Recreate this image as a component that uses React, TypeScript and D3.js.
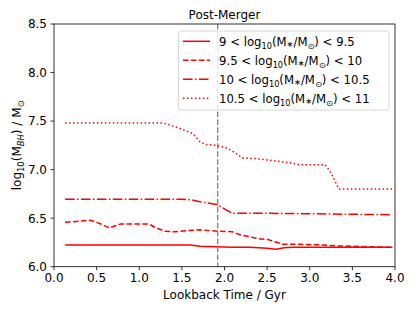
import React from "react";
import * as d3 from "d3";

const xTicks = [0.0, 0.5, 1.0, 1.5, 2.0, 2.5, 3.0, 3.5, 4.0];
const yTicks = [6.0, 6.5, 7.0, 7.5, 8.0, 8.5];
const mergerTime = 1.92;

const seriesLabels = [
  ["9", "9.5"],
  ["9.5", "10"],
  ["10", "10.5"],
  ["10.5", "11"],
];

const tSolid = [0.13, 0.5, 1.0, 1.6, 1.71, 1.9, 2.09, 2.3, 2.5, 2.6, 2.7, 2.8, 3.0, 3.2, 3.4, 3.6, 3.8, 3.97];
const vSolid = [6.224, 6.224, 6.224, 6.224, 6.21, 6.205, 6.2, 6.2, 6.19, 6.18, 6.195, 6.2, 6.2, 6.2, 6.2, 6.2, 6.2, 6.2];

const tDashed = [0.13, 0.3, 0.43, 0.55, 0.65, 0.78, 0.95, 1.11, 1.2, 1.3, 1.41, 1.55, 1.71, 1.92, 2.09, 2.18, 2.39, 2.51, 2.69, 2.89, 3.1, 3.3, 3.5, 3.7, 3.97];
const vDashed = [6.457, 6.47, 6.478, 6.44, 6.40, 6.44, 6.44, 6.44, 6.40, 6.365, 6.36, 6.37, 6.38, 6.365, 6.36, 6.33, 6.29, 6.28, 6.23, 6.23, 6.225, 6.215, 6.21, 6.205, 6.2];

const tDashDot = [0.13, 0.5, 1.0, 1.5, 1.6, 1.71, 1.91, 2.09, 2.5, 3.0, 3.5, 3.97];
const vDashDot = [6.694, 6.694, 6.694, 6.694, 6.69, 6.67, 6.64, 6.55, 6.55, 6.545, 6.54, 6.535];

const tDotted = [0.13, 0.5, 1.0, 1.28, 1.36, 1.46, 1.63, 1.71, 1.77, 1.9, 2.04, 2.13, 2.21, 2.42, 2.59, 2.77, 2.89, 3.05, 3.18, 3.24, 3.32, 3.34, 3.6, 3.97];
const vDotted = [7.48, 7.48, 7.48, 7.48, 7.46, 7.43, 7.37, 7.29, 7.26, 7.25, 7.22, 7.17, 7.12, 7.11, 7.09, 7.07, 7.05, 7.05, 7.05, 6.98, 6.84, 6.80, 6.80, 6.80];

const seriesT = [tSolid, tDashed, tDashDot, tDotted];
const seriesV = [vSolid, vDashed, vDashDot, vDotted];
const dashes = ["none", "5.55,2.4", "9.6,2.4,1.5,2.4", "1.5,2.475"];

const W = 415, H = 311;
const L = 54, R = 395, T = 24, B = 266.7;
const font = "'DejaVu Sans', sans-serif";
const FS = 12;
const SUB = 8.4;
const LFS = 11.7;
const LSUB = 8.2;

export default function App() {
  const x = d3.scaleLinear().domain([0, 4]).range([L, R]);
  const y = d3.scaleLinear().domain([6, 8.5]).range([B, T]);
  const line = d3.line<[number, number]>().x(d => x(d[0])).y(d => y(d[1]));

  const legX = 178.5, legY = 31, legW = 210.5, legH = 79;
  const rowY = [41.3, 60.3, 79.3, 98.3];

  const massLabel = (lo: string, hi: string) => (
    <>
      <tspan>{lo} &lt; log</tspan>
      <tspan fontSize={LSUB} dy={3}>10</tspan>
      <tspan dy={-3}>(M</tspan>
      <tspan fontSize={LSUB} dy={1}>∗</tspan>
      <tspan dy={-1}>/M</tspan>
      <tspan fontSize={LSUB} dy={3}>⊙</tspan>
      <tspan dy={-3}>) &lt; {hi}</tspan>
    </>
  );

  return (
    <svg width={W} height={H} style={{ position: "absolute", left: 0, top: 0, background: "#fff" }} fontFamily={font}>
      <rect x={0} y={0} width={W} height={H} fill="#fff" />
      {seriesT.map((ts, i) => (
        <path
          key={i}
          d={line(ts.map((t, j) => [t, seriesV[i][j]] as [number, number])) || ""}
          fill="none"
          stroke="#ff0000"
          strokeWidth={1.5}
          strokeDasharray={dashes[i]}
        />
      ))}
      <line x1={x(mergerTime)} x2={x(mergerTime)} y1={T} y2={B} stroke="#808080" strokeWidth={1.3} strokeDasharray="5.55,2.4" />
      <rect x={L} y={T} width={R - L} height={B - T} fill="none" stroke="#000" strokeWidth={0.8} />
      {xTicks.map(t => (
        <g key={"x" + t}>
          <line x1={x(t)} x2={x(t)} y1={B} y2={B + 3.5} stroke="#000" strokeWidth={0.8} />
          <text x={x(t)} y={B + 15.7} fontSize={FS} textAnchor="middle" fill="#000">{t.toFixed(1)}</text>
        </g>
      ))}
      {yTicks.map(v => (
        <g key={"y" + v}>
          <line x1={L - 3.5} x2={L} y1={y(v)} y2={y(v)} stroke="#000" strokeWidth={0.8} />
          <text x={L - 7} y={y(v) + 4.4} fontSize={FS} textAnchor="end" fill="#000">{v.toFixed(1)}</text>
        </g>
      ))}
      <text x={(L + R) / 2} y={18.8} fontSize={FS} textAnchor="middle" fill="#000">Post-Merger</text>
      <text x={(L + R) / 2} y={298.5} fontSize={FS} textAnchor="middle" fill="#000">Lookback Time / Gyr</text>
      <text transform={`translate(21,${(T + B) / 2}) rotate(-90)`} fontSize={FS} textAnchor="middle" fill="#000">
        <tspan>log</tspan>
        <tspan fontSize={SUB} dy={3}>10</tspan>
        <tspan dy={-3}>(M</tspan>
        <tspan fontSize={SUB} dy={3} fontStyle="italic">BH</tspan>
        <tspan dy={-3}>) / M</tspan>
        <tspan fontSize={SUB} dy={3}>⊙</tspan>
      </text>
      <rect x={legX} y={legY} width={legW} height={legH} rx={2} fill="#fff" fillOpacity={0.8} stroke="#cccccc" strokeWidth={0.8} />
      {seriesLabels.map((lab, i) => (
        <g key={"leg" + i}>
          <line x1={183} x2={210} y1={rowY[i]} y2={rowY[i]} stroke="#ff0000" strokeWidth={1.5} strokeDasharray={dashes[i]} />
          <text x={219} y={rowY[i] + 4.3} fontSize={LFS} fill="#000">{massLabel(lab[0], lab[1])}</text>
        </g>
      ))}
    </svg>
  );
}
